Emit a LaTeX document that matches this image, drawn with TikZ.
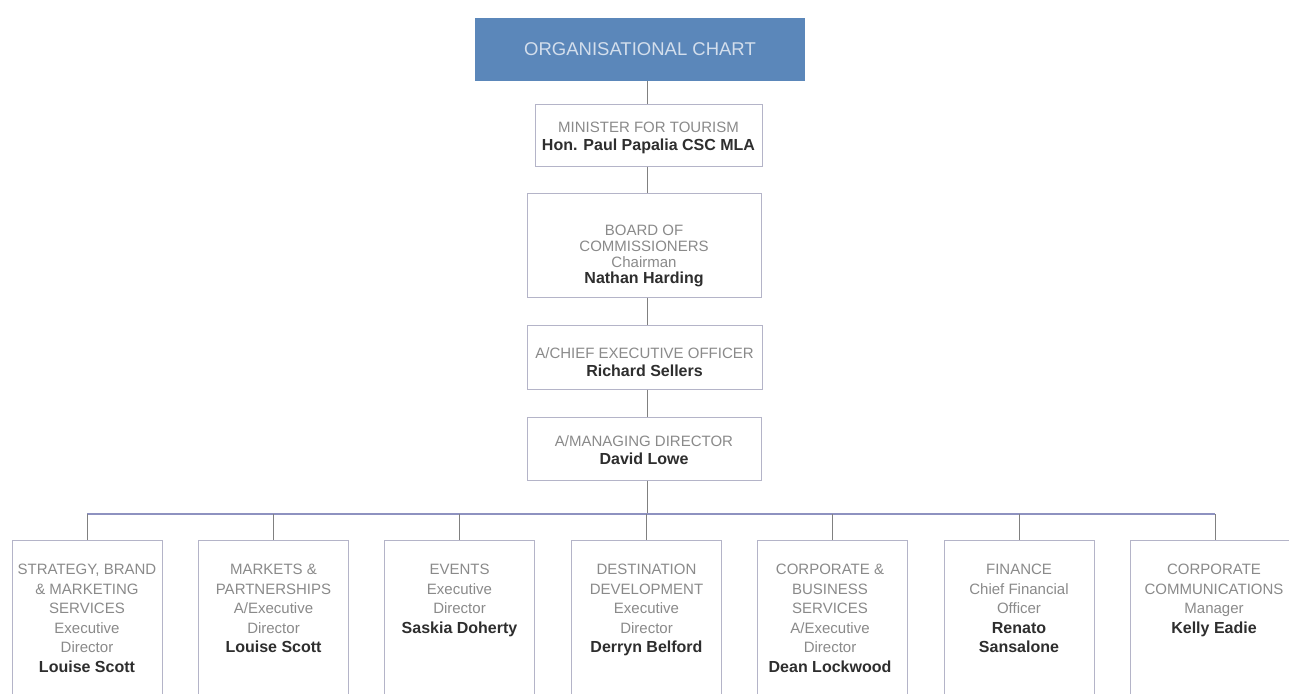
\documentclass[tikz,border=0pt]{standalone}
\usepackage{fontspec}
\setmainfont{Liberation Sans}
\definecolor{hdrfill}{HTML}{5B87BA}
\definecolor{hdrtext}{HTML}{D3DEEC}
\definecolor{boxline}{HTML}{B4B4C8}
\definecolor{txtgray}{HTML}{8A8A8A}
\definecolor{namecol}{HTML}{2E2E2E}
\definecolor{vcol}{HTML}{808080}
\definecolor{hcol}{HTML}{8E92C0}
\newcommand{\nm}[1]{{\color{namecol}\bfseries\fontsize{16}{18}\selectfont #1}}
\tikzset{
  hdrbox/.style={rectangle, fill=hdrfill, draw=none, text=hdrtext, font=\fontsize{18.5}{21}\selectfont},
  topbox/.style={rectangle, draw=boxline, line width=1pt, fill=white},
  botbox/.style={rectangle, draw=boxline, line width=1pt, fill=white, anchor=north, minimum width=150pt, minimum height=180pt},
  toptext/.style={align=center, inner sep=0pt, text=txtgray, font=\fontsize{15}{18}\selectfont},
  bottext/.style={align=center, inner sep=0pt, anchor=north, text=txtgray, font=\fontsize{15}{19.5}\selectfont},
  vline/.style={draw=vcol, line width=1pt},
  hline/.style={draw=hcol, line width=1.3pt}
}
\begin{document}
\begin{tikzpicture}[x=1pt,y=-1pt]
\useasboundingbox (0,0) rectangle (1289,693);
\fill[white] (0,0) rectangle (1289,693);
\clip (0,0) rectangle (1289,693);

% header
\node[hdrbox, minimum width=330pt, minimum height=63pt] (hdr) at (640,49.5) {ORGANISATIONAL CHART};

% top boxes
\node[topbox, minimum width=227pt, minimum height=62pt] (min) at (648.5,135) {};
\node[toptext] (mint) at (648.5,137.5) {MINISTER FOR TOURISM\\\nm{Hon. Paul Papalia CSC MLA}};

\node[topbox, minimum width=234pt, minimum height=104pt] (brd) at (644,245) {};
\node[toptext, font=\fontsize{15}{16}\selectfont] (brdt) at (644,256) {BOARD OF\\COMMISSIONERS\\Chairman\\\nm{Nathan Harding}};

\node[topbox, minimum width=235pt, minimum height=64pt] (ceo) at (644.5,357) {};
\node[toptext] (ceot) at (644.5,362) {A/CHIEF EXECUTIVE OFFICER\\\nm{Richard Sellers}};

\node[topbox, minimum width=234pt, minimum height=63pt] (md) at (644,448.5) {};
\node[toptext] (mdt) at (644,450) {A/MANAGING DIRECTOR\\\nm{David Lowe}};

% bottom boxes
\node[botbox] (b1) at (87,540) {};
\node[botbox] (b2) at (273.5,540) {};
\node[botbox] (b3) at (459.5,540) {};
\node[botbox] (b4) at (646.5,540) {};
\node[botbox] (b5) at (832.5,540) {};
\node[botbox] (b6) at (1019,540) {};
\node[botbox, minimum width=170pt] (b7) at (1215,540) {};

\node[bottext] (t1) at (87,564) {STRATEGY, BRAND\\\& MARKETING\\SERVICES\\Executive\\Director\\\nm{Louise Scott}};
\node[bottext] (t2) at (273.5,564) {MARKETS \&\\PARTNERSHIPS\\A/Executive\\Director\\\nm{Louise Scott}};
\node[bottext] (t3) at (459.5,564) {EVENTS\\Executive\\Director\\\nm{Saskia Doherty}};
\node[bottext] (t4) at (646.5,564) {DESTINATION\\DEVELOPMENT\\Executive\\Director\\\nm{Derryn Belford}};
\node[bottext] (t5) at (830,564) {CORPORATE \&\\BUSINESS\\SERVICES\\A/Executive\\Director\\\nm{Dean Lockwood}};
\node[bottext] (t6) at (1019,564) {FINANCE\\Chief Financial\\Officer\\\nm{Renato}\\\nm{Sansalone}};
\node[bottext] (t7) at (1214,564) {CORPORATE\\COMMUNICATIONS\\Manager\\\nm{Kelly Eadie}};

% connectors
\coordinate (vx) at (647,0);
\coordinate (hy) at (647,514);
\draw[vline] (hdr.south -| vx) -- (min.north -| vx);
\draw[vline] (min.south -| vx) -- (brd.north -| vx);
\draw[vline] (brd.south -| vx) -- (ceo.north -| vx);
\draw[vline] (ceo.south -| vx) -- (md.north -| vx);
\draw[vline] (md.south -| vx) -- (hy);
\draw[hline] (b1.north |- hy) -- (b7.north |- hy);
\foreach \b in {b1,b2,b3,b4,b5,b6,b7}{
  \draw[vline] (\b.north |- hy) -- (\b.north);
}
\end{tikzpicture}
\end{document}
